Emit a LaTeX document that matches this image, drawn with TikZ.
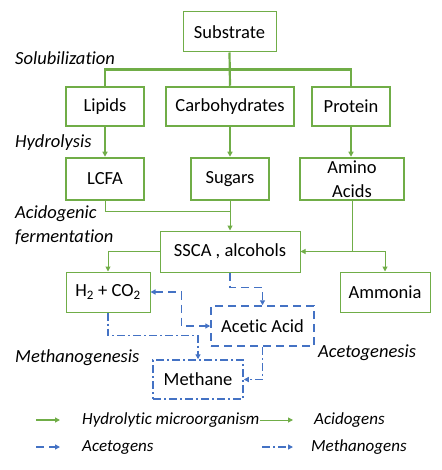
\documentclass[tikz,border=0pt]{standalone}
\usepackage{fontspec}
\setmainfont{Carlito}[Ligatures=NoCommon]
\usetikzlibrary{arrows.meta,positioning}
\definecolor{hydcol}{RGB}{112,173,71}
\definecolor{acecol}{RGB}{68,114,196}
\newcommand{\dfont}{\fontsize{18.5}{24}\selectfont}
\newcommand{\lfont}{\fontsize{17}{20}\selectfont}

\begin{document}
\begin{tikzpicture}[x=1pt,y=-1pt,>={Triangle[length=5pt,width=5pt]},
  box/.style={draw=hydcol,line width=1pt,inner sep=0pt,align=center,font=\dfont,minimum height=40pt},
  thickbox/.style={box,line width=2.5pt},
  acebox/.style={box,draw=acecol,line width=1.5pt,dash pattern=on 8pt off 5pt},
  methbox/.style={box,draw=acecol,line width=1.5pt,dash pattern=on 8pt off 3pt on 2pt off 3pt},
  hydline/.style={draw=hydcol,line width=2.2pt},
  acidline/.style={draw=hydcol,line width=1pt},
  aceline/.style={draw=acecol,line width=1.5pt,dash pattern=on 8pt off 5pt},
  methline/.style={draw=acecol,line width=1.5pt,dash pattern=on 8pt off 3pt on 2pt off 3pt},
  steplabel/.style={font=\dfont\itshape,inner sep=0pt,anchor=west,align=left},
  keylabel/.style={steplabel,font=\lfont\itshape}]
\useasboundingbox (0,0) rectangle (441,470);
% ---- boxes ----
\node[box,minimum width=93pt] (sub) at (229.5,32) {Substrate};
\node[thickbox,minimum width=78pt,minimum height=39pt] (lip) at (105,106.5) {Lipids};
\node[thickbox,minimum width=128pt,minimum height=39pt] (carb) at (230,106.5) {Carbohydrates};
\node[thickbox,minimum width=78pt,minimum height=39pt] (prot) at (351,106.5) {Protein};
\node[thickbox,minimum width=78pt,minimum height=42pt] (lcfa) at (105,179) {LCFA};
\node[thickbox,minimum width=78pt,minimum height=42pt] (sug) at (230,179) {Sugars};
\node[thickbox,minimum width=104pt,minimum height=42pt] (amino) at (352,179) {Amino\\Acids};
\node[box,minimum width=140pt,minimum height=41pt] (ssca) at (230,251.5) {SSCA , alcohols};
\node[box,minimum width=84pt] (h2) at (108,292) {H\textsubscript{2} + CO\textsubscript{2}};
\node[box,minimum width=90pt] (amm) at (385,292) {Ammonia};
\node[acebox,minimum width=103pt] (acet) at (262.5,326) {Acetic Acid};
\node[methbox,minimum width=90pt,minimum height=39pt] (meth) at (198,379.5) {Methane};
% ---- stage labels ----
\node[steplabel] (solu) at (15,58) {Solubilization};
\node[steplabel] (hydro) at (15,143) {Hydrolysis};
\node[steplabel] (acido) at (15,225.5) {Acidogenic\\fermentation};
\node[steplabel] (metgen) at (15,358) {Methanogenesis};
\node[steplabel] (acegen) at (318,353) {Acetogenesis};
% ---- solubilization ----
\draw[hydline] (sub.south) -- (carb.north);
\draw[hydline] (lip.north) |- ([yshift=-17pt]sub.south) -| (prot.north);
% ---- hydrolysis ----
\draw[hydline,->] (lip) -- (lcfa);
\draw[hydline,->] (carb) -- (sug);
\draw[hydline,->] (prot) -- (amino.north-|prot.south);
% ---- acidogenic fermentation ----
\draw[acidline] (lcfa.south) |- ([yshift=-10pt]sug.south);
\draw[acidline,->] (sug) -- (ssca);
\draw[acidline,->] (amino.south) |- (ssca.east);
\draw[acidline,->] (amino.south) -- (amino.south|-ssca.east) -| (amm.north);
\draw[acidline,->] (ssca.west) -| (h2.north);
% ---- acetogenesis ----
\draw[aceline,->] (ssca.south) -- ++(0,15) -| (acet.north);
\draw[aceline,<->] (h2.east) -- ++(31,0) |- (acet.west);
% ---- methanogenesis ----
\draw[methline,->] (h2.south) -- ++(0,23) -| (meth.north);
\draw[methline,->] (acet.south) |- (meth.east);
% ---- legend ----
\coordinate (hyda) at (36,420); \coordinate (hydb) at (60,420);
\coordinate (acia) at (260,420); \coordinate (acib) at (293,420);
\coordinate (acea) at (36,447); \coordinate (aceb) at (60,447);
\coordinate (meta) at (262,447); \coordinate (metb) at (293,447);
\draw[hydline,->] (hyda) -- (hydb);
\draw[acidline,->] (acia) -- (acib);
\draw[aceline,->] (acea) -- (aceb);
\draw[methline,->] (meta) -- (metb);
\node[keylabel] (lhyd) at (82,420) {Hydrolytic microorganism};
\node[keylabel] (laci) at (314,420) {Acidogens};
\node[keylabel] (lace) at (82,447) {Acetogens};
\node[keylabel] (lmet) at (311,447) {Methanogens};
\end{tikzpicture}
\end{document}
